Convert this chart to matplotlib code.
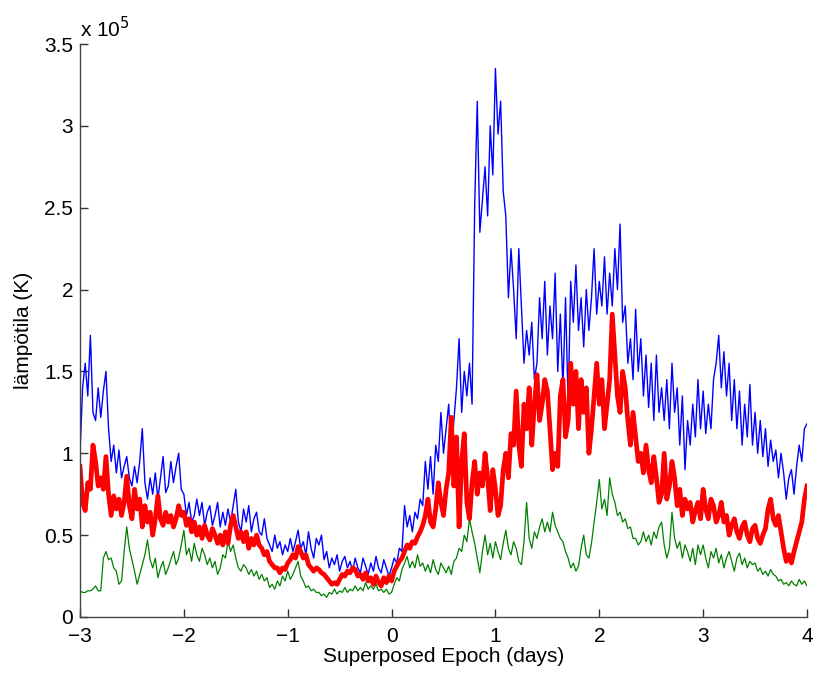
import numpy as np
import matplotlib
matplotlib.use("Agg")
import matplotlib.pyplot as plt

plt.rcParams['font.family'] = ['Liberation Sans', 'DejaVu Sans']
plt.rcParams['axes.unicode_minus'] = True

# values in units of 1e5 K, sampled every 0.025 day from -3 to 4
blue = [1.00, 1.40, 1.55, 1.35, 1.72, 1.25, 1.20, 1.40, 1.22, 1.38,
        1.50, 1.15, 0.95, 1.05, 0.88, 1.02, 0.85, 0.92, 0.98, 0.85,
        0.80, 0.92, 0.82, 0.95, 1.15, 0.82, 0.72, 0.85, 0.75, 0.88,
        0.72, 0.85, 0.98, 0.76, 0.80, 0.95, 0.82, 0.92, 1.00, 0.78,
        0.75, 0.62, 0.70, 0.58, 0.62, 0.72, 0.62, 0.70, 0.56, 0.64,
        0.68, 0.56, 0.62, 0.70, 0.55, 0.64, 0.56, 0.66, 0.58, 0.68,
        0.78, 0.58, 0.52, 0.66, 0.58, 0.68, 0.52, 0.60, 0.64, 0.52,
        0.50, 0.60, 0.48, 0.44, 0.40, 0.50, 0.42, 0.46, 0.38, 0.44,
        0.40, 0.48, 0.40, 0.46, 0.53, 0.42, 0.46, 0.38, 0.52, 0.42,
        0.36, 0.48, 0.44, 0.50, 0.35, 0.40, 0.30, 0.36, 0.32, 0.38,
        0.28, 0.34, 0.37, 0.30, 0.34, 0.28, 0.36, 0.30, 0.27, 0.36,
        0.31, 0.26, 0.33, 0.28, 0.37, 0.30, 0.27, 0.35, 0.30, 0.25,
        0.30, 0.36, 0.33, 0.42, 0.40, 0.68, 0.55, 0.62, 0.52, 0.64,
        0.60, 0.72, 0.68, 0.95, 0.78, 0.98, 0.75, 1.05, 0.95, 1.25,
        1.00, 1.15, 1.30, 0.98, 1.20, 1.40, 1.70, 1.25, 1.50, 1.35,
        1.55, 1.30, 2.50, 3.15, 2.35, 2.55, 2.75, 2.45, 3.00, 2.70,
        3.35, 2.95, 3.15, 2.60, 2.45, 1.95, 2.25, 2.00, 1.70, 2.25,
        1.90, 1.55, 1.75, 1.60, 1.80, 1.45, 1.55, 1.95, 1.70, 2.05,
        1.60, 1.90, 1.70, 2.10, 1.50, 1.85, 1.40, 1.95, 1.30, 2.05,
        1.80, 2.15, 1.75, 1.95, 1.65, 2.00, 1.75, 1.95, 2.25, 1.85,
        2.05, 1.90, 2.20, 1.85, 2.10, 1.90, 2.25, 2.00, 2.40, 1.80,
        1.90, 1.55, 1.70, 1.45, 1.88, 1.50, 1.70, 1.35, 1.60, 1.28,
        1.55, 1.20, 1.60, 1.25, 1.40, 1.20, 1.45, 1.15, 1.55, 1.25,
        1.40, 1.05, 1.35, 0.90, 1.20, 1.05, 1.30, 1.10, 1.45, 1.15,
        1.38, 1.12, 1.30, 1.15, 1.45, 1.55, 1.72, 1.40, 1.62, 1.35,
        1.55, 1.20, 1.45, 1.15, 1.38, 1.05, 1.30, 1.10, 1.42, 1.05,
        1.25, 1.00, 1.20, 0.98, 1.15, 0.92, 1.08, 0.95, 1.02, 0.85,
        1.00, 0.88, 0.72, 0.85, 0.90, 0.75, 0.92, 1.05, 0.95, 1.15,
        1.18]

red = [0.92, 0.70, 0.65, 0.82, 0.78, 1.05, 0.95, 0.80, 0.85, 0.78,
       0.98, 0.75, 0.62, 0.74, 0.66, 0.72, 0.62, 0.70, 0.86, 0.68,
       0.60, 0.78, 0.66, 0.72, 0.55, 0.68, 0.58, 0.64, 0.50, 0.60,
       0.74, 0.60, 0.56, 0.64, 0.58, 0.62, 0.55, 0.60, 0.68, 0.62,
       0.64, 0.56, 0.60, 0.52, 0.58, 0.50, 0.55, 0.48, 0.56, 0.50,
       0.47, 0.54, 0.50, 0.45, 0.50, 0.44, 0.52, 0.45, 0.56, 0.62,
       0.55, 0.48, 0.52, 0.46, 0.52, 0.42, 0.48, 0.44, 0.50, 0.44,
       0.42, 0.38, 0.40, 0.34, 0.32, 0.30, 0.30, 0.27, 0.30, 0.29,
       0.33, 0.35, 0.38, 0.36, 0.43, 0.40, 0.36, 0.38, 0.32, 0.30,
       0.28, 0.30, 0.29, 0.27, 0.26, 0.24, 0.22, 0.20, 0.21, 0.20,
       0.23, 0.26, 0.25, 0.28, 0.27, 0.30, 0.29, 0.25, 0.26, 0.23,
       0.27, 0.22, 0.24, 0.20, 0.25, 0.21, 0.19, 0.24, 0.21, 0.25,
       0.22, 0.28, 0.31, 0.34, 0.36, 0.40, 0.44, 0.42, 0.46, 0.45,
       0.49, 0.52, 0.56, 0.62, 0.72, 0.58, 0.55, 0.66, 0.82, 0.70,
       0.62, 0.78, 0.88, 1.22, 0.80, 1.10, 0.55, 0.95, 1.12, 0.70,
       0.60, 0.82, 0.95, 0.75, 0.88, 0.80, 1.00, 0.85, 0.65, 0.90,
       0.78, 0.62, 0.68, 0.90, 1.00, 0.85, 1.12, 1.05, 1.38, 1.05,
       0.92, 1.30, 1.15, 1.40, 1.05, 1.30, 1.48, 1.20, 1.30, 1.45,
       1.38, 1.15, 0.90, 1.00, 0.92, 1.35, 1.45, 1.10, 1.20, 1.55,
       1.30, 1.50, 1.15, 1.45, 1.25, 1.40, 1.00, 1.15, 1.35, 1.55,
       1.30, 1.45, 1.15, 1.30, 1.45, 1.85, 1.60, 1.35, 1.25, 1.50,
       1.40, 1.20, 1.05, 1.25, 1.10, 0.95, 1.00, 0.88, 1.05, 0.90,
       0.82, 0.98, 0.85, 0.70, 0.75, 1.00, 0.72, 0.80, 0.95, 0.85,
       0.68, 0.78, 0.62, 0.72, 0.66, 0.70, 0.58, 0.65, 0.70, 0.60,
       0.78, 0.66, 0.60, 0.72, 0.68, 0.58, 0.62, 0.70, 0.58, 0.62,
       0.50, 0.56, 0.60, 0.52, 0.48, 0.55, 0.58, 0.50, 0.46, 0.54,
       0.56, 0.48, 0.45, 0.50, 0.54, 0.66, 0.72, 0.60, 0.56, 0.62,
       0.52, 0.42, 0.34, 0.38, 0.33, 0.40, 0.46, 0.52, 0.58, 0.72,
       0.80]

green = [0.16, 0.15, 0.15, 0.16, 0.16, 0.17, 0.19, 0.16, 0.16, 0.36,
         0.40, 0.35, 0.36, 0.30, 0.28, 0.20, 0.22, 0.40, 0.55, 0.42,
         0.35, 0.28, 0.20, 0.26, 0.32, 0.38, 0.47, 0.35, 0.30, 0.36,
         0.24, 0.30, 0.34, 0.26, 0.30, 0.35, 0.40, 0.32, 0.36, 0.44,
         0.53, 0.38, 0.42, 0.34, 0.45, 0.38, 0.34, 0.42, 0.38, 0.32,
         0.36, 0.30, 0.34, 0.26, 0.30, 0.38, 0.36, 0.46, 0.40, 0.44,
         0.36, 0.30, 0.28, 0.32, 0.30, 0.26, 0.29, 0.25, 0.28, 0.23,
         0.26, 0.22, 0.24, 0.18, 0.20, 0.17, 0.22, 0.19, 0.25, 0.22,
         0.28, 0.23, 0.26, 0.30, 0.34, 0.25, 0.22, 0.18, 0.19, 0.16,
         0.17, 0.15, 0.15, 0.13, 0.14, 0.12, 0.15, 0.14, 0.17, 0.14,
         0.16, 0.15, 0.18, 0.15, 0.17, 0.16, 0.19, 0.16, 0.18, 0.16,
         0.21, 0.17, 0.19, 0.17, 0.20, 0.16, 0.17, 0.15, 0.17, 0.14,
         0.15, 0.20, 0.24, 0.22, 0.29, 0.33, 0.37, 0.30, 0.34, 0.30,
         0.38, 0.31, 0.33, 0.28, 0.32, 0.27, 0.35, 0.29, 0.26, 0.33,
         0.30, 0.27, 0.31, 0.26, 0.34, 0.36, 0.42, 0.40, 0.50, 0.46,
         0.60, 0.52, 0.45, 0.36, 0.27, 0.40, 0.50, 0.38, 0.45, 0.36,
         0.46, 0.40, 0.35, 0.45, 0.53, 0.42, 0.38, 0.46, 0.42, 0.34,
         0.32, 0.46, 0.70, 0.48, 0.42, 0.52, 0.48, 0.55, 0.60, 0.52,
         0.58, 0.52, 0.64, 0.56, 0.52, 0.48, 0.46, 0.40, 0.36, 0.30,
         0.33, 0.28, 0.31, 0.42, 0.50, 0.38, 0.36, 0.45, 0.58, 0.70,
         0.84, 0.66, 0.72, 0.62, 0.85, 0.75, 0.70, 0.62, 0.64, 0.58,
         0.60, 0.54, 0.55, 0.48, 0.48, 0.44, 0.46, 0.52, 0.46, 0.50,
         0.44, 0.52, 0.48, 0.55, 0.58, 0.44, 0.36, 0.42, 0.64, 0.48,
         0.42, 0.46, 0.36, 0.44, 0.40, 0.34, 0.42, 0.32, 0.44, 0.38,
         0.44, 0.36, 0.30, 0.40, 0.36, 0.42, 0.33, 0.38, 0.30, 0.36,
         0.40, 0.34, 0.28, 0.36, 0.39, 0.32, 0.36, 0.30, 0.34, 0.32,
         0.33, 0.28, 0.30, 0.26, 0.28, 0.25, 0.29, 0.26, 0.25, 0.22,
         0.23, 0.20, 0.21, 0.19, 0.22, 0.20, 0.19, 0.23, 0.20, 0.22,
         0.19]

x_start, x_end = -3.0, 4.0
xticks = [-3, -2, -1, 0, 1, 2, 3, 4]
yticks = [0, 0.5, 1, 1.5, 2, 2.5, 3, 3.5]
ytick_labels = ["0", "0.5", "1", "1.5", "2", "2.5", "3", "3.5"]

fig = plt.figure(figsize=(8.13, 6.74), dpi=100)
ax = fig.add_axes([80/813, 1 - 617/674, 727/813, 573/674])

def days_for(series):
    return np.linspace(x_start, x_end, len(series))

ax.plot(days_for(blue), blue, color=(0, 0, 1), lw=1.0)
ax.plot(days_for(green), green, color=(0, 0.5, 0), lw=0.9)
ax.plot(days_for(red), red, color=(1, 0, 0), lw=3.4)

ax.set_xlim(x_start, x_end)
ax.set_ylim(0, 3.5)
ax.set_xticks(xticks)
ax.set_xticklabels([("\u2212%d" % -t) if t < 0 else str(t) for t in xticks])
ax.set_yticks(yticks)
ax.set_yticklabels(ytick_labels)
ax.tick_params(direction='in', length=6, width=1, colors='#333333',
               labelcolor='black', labelsize=15)
ax.tick_params(axis='x', pad=7)
ax.tick_params(axis='y', pad=5)
for s in ['top', 'right']:
    ax.spines[s].set_visible(False)
for s in ['left', 'bottom']:
    ax.spines[s].set_color('#444444')
    ax.spines[s].set_linewidth(1.0)

ax.text(0.0, 1.005, "x 10$^{5}$", transform=ax.transAxes, fontsize=15,
        ha='left', va='bottom')
ax.set_xlabel("Superposed Epoch (days)", fontsize=15, labelpad=1)
ax.set_ylabel("lämpötila (K)", fontsize=15, labelpad=8)

fig.savefig("out.png", dpi=100)
